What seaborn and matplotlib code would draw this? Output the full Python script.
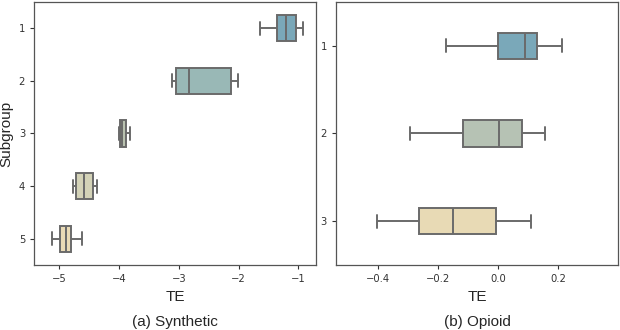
import pandas as pd
import numpy as np
import matplotlib
matplotlib.use("Agg")
import matplotlib.pyplot as plt
import seaborn as sns

# five-number summaries: [min, q1, median, q3, max]
synthetic_groups = ["1", "2", "3", "4", "5"]
synthetic_te = [
    [-1.64, -1.36, -1.20, -1.04, -0.92],
    [-3.11, -3.05, -2.82, -2.12, -2.01],
    [-4.00, -3.98, -3.95, -3.88, -3.82],
    [-4.77, -4.72, -4.58, -4.44, -4.36],
    [-5.12, -4.98, -4.89, -4.80, -4.62],
]
synthetic_colors = ["#7aa8b9", "#99b8b6", "#b9c2b0", "#d3d2b7", "#eadbb6"]

opioid_groups = ["1", "2", "3"]
opioid_te = [
    [-0.172, 0.000, 0.088, 0.131, 0.212],
    [-0.293, -0.118, 0.003, 0.081, 0.157],
    [-0.403, -0.263, -0.150, -0.007, 0.110],
]
opioid_colors = ["#7aa8b9", "#b6c2b4", "#e8dab5"]


def to_long(groups, values):
    rows = []
    for g, vals in zip(groups, values):
        for v in vals:
            rows.append({"Subgroup": g, "TE": v})
    return pd.DataFrame(rows)


sns.set_style("ticks")
plt.rcParams["font.family"] = ["DejaVu Sans"]

fig = plt.figure(figsize=(6.2, 3.3), dpi=100)
ax1 = fig.add_axes([0.055, 0.197, 0.455, 0.797])
ax2 = fig.add_axes([0.542, 0.197, 0.455, 0.797])

box_style = dict(linewidth=1.4, linecolor="#6a6a6a", saturation=1, whis=np.inf)

df_syn = to_long(synthetic_groups, synthetic_te)
sns.boxplot(data=df_syn, x="TE", y="Subgroup", hue="Subgroup", palette=synthetic_colors,
            order=synthetic_groups, width=0.5, legend=False, ax=ax1, **box_style)

df_op = to_long(opioid_groups, opioid_te)
sns.boxplot(data=df_op, x="TE", y="Subgroup", hue="Subgroup", palette=opioid_colors,
            order=opioid_groups, width=0.3, legend=False, ax=ax2, **box_style)

ax1.set_xlim(-5.42, -0.70)
ax1.set_xticks([-5, -4, -3, -2, -1])
ax2.set_xlim(-0.54, 0.40)
ax2.set_xticks([-0.4, -0.2, 0.0, 0.2])
ax2.set_xticklabels(["\u22120.4", "\u22120.2", "0.0", "0.2"])

for ax in (ax1, ax2):
    ax.tick_params(labelsize=7.2, length=3, width=0.8, colors="#333333")
    for s in ax.spines.values():
        s.set_color("#555555")
        s.set_linewidth(0.9)
    ax.set_xlabel("TE", fontsize=11, family="Liberation Sans", labelpad=4)

ax1.set_ylabel("Subgroup", fontsize=11, family="Liberation Sans", labelpad=4)
ax2.set_ylabel("")

fig.text(0.055 + 0.455 / 2, 0.024, "(a) Synthetic", ha="center", va="center",
         fontsize=11, family="Liberation Sans")
fig.text(0.542 + 0.455 / 2, 0.024, "(b) Opioid", ha="center", va="center",
         fontsize=11, family="Liberation Sans")

fig.savefig("out.png", dpi=100)
